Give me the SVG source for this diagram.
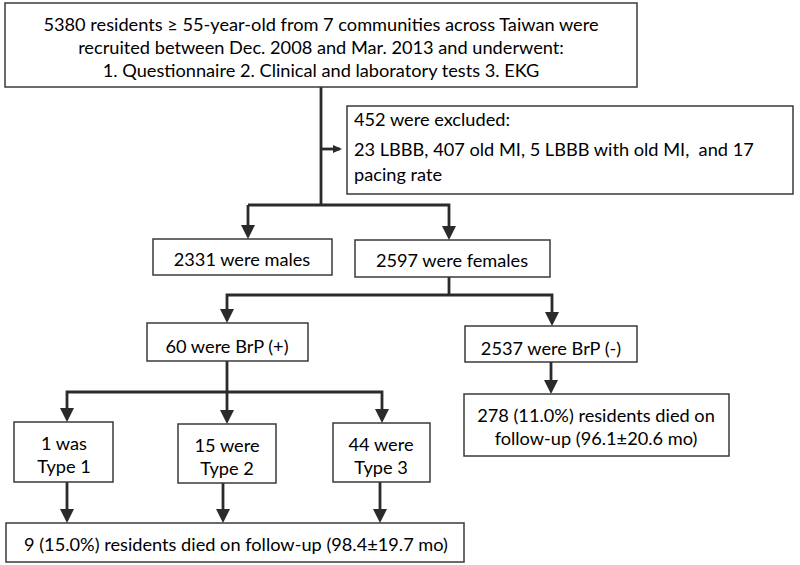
<svg xmlns="http://www.w3.org/2000/svg" width="800" height="565" viewBox="0 0 800 565">
<defs>
<marker id="ah" viewBox="0 0 14 14" refX="10" refY="7" markerWidth="14" markerHeight="14" markerUnits="userSpaceOnUse" orient="auto">
<path d="M0,0 L14,7 L0,14 z" fill="#2b2b2b"/>
</marker>
<marker id="ahs" viewBox="0 0 9 8" refX="7" refY="4" markerWidth="9" markerHeight="8" markerUnits="userSpaceOnUse" orient="auto">
<path d="M0,0 L9,4 L0,8 z" fill="#2b2b2b"/>
</marker>
</defs>
<style>
.box{fill:#fff;stroke:#3a3a3a;stroke-width:1.5}
.t{font-family:Lato,"Liberation Sans",sans-serif;font-size:18.2px;fill:#000;text-anchor:middle}
.tl{text-anchor:start}
.c{fill:none;stroke:#2b2b2b;stroke-width:2.8}
.a{marker-end:url(#ah)}
</style>
<rect width="800" height="565" fill="#fff"/>
<g id="connectors">
<path class="c" d="M321,87 V205"/>
<path class="c" d="M321,149 H340" stroke-width="2" style="marker-end:url(#ahs)"/>
<path class="c a" d="M248,205 H449 V236"/>
<path class="c a" d="M248,205 V235"/>
<path class="c" d="M449,277 V295"/>
<path class="c a" d="M449,295 H227 V319"/>
<path class="c a" d="M449,295 H552 V322"/>
<path class="c a" d="M551,362 V390"/>
<path class="c" d="M227,361 V392"/>
<path class="c a" d="M227,392 H67 V418"/>
<path class="c a" d="M227,392 V420"/>
<path class="c a" d="M227,392 H382 V419"/>
<path class="c a" d="M67,482 V519"/>
<path class="c a" d="M223,483 V519"/>
<path class="c a" d="M380,482 V519"/>
</g>
<g id="top">
<rect class="box" x="5" y="3" width="632" height="84"/>
<text class="t" x="321" y="31">5380 residents ≥ 55-year-old from 7 communities across Taiwan were</text>
<text class="t" x="321" y="54">recruited between Dec. 2008 and Mar. 2013 and underwent:</text>
<text class="t" x="321" y="77">1. Questionnaire 2. Clinical and laboratory tests 3. EKG</text>
</g>
<g id="excluded">
<rect class="box" x="347" y="106" width="446" height="88"/>
<text class="t tl" x="354" y="126">452 were excluded:</text>
<text class="t tl" x="354" y="156" xml:space="preserve">23 LBBB, 407 old MI, 5 LBBB with old MI,  and 17</text>
<text class="t tl" x="354" y="181">pacing rate</text>
</g>
<g id="males">
<rect class="box" x="153" y="239" width="179" height="36"/>
<text class="t" x="242" y="266">2331 were males</text>
</g>
<g id="females">
<rect class="box" x="355" y="240" width="195" height="37"/>
<text class="t" x="452" y="267">2597 were females</text>
</g>
<g id="brp_pos">
<rect class="box" x="147" y="323" width="161" height="38"/>
<text class="t" x="227" y="353">60 were BrP (+)</text>
</g>
<g id="brp_neg">
<rect class="box" x="465" y="326" width="172" height="36"/>
<text class="t" x="551" y="355">2537 were BrP (-)</text>
</g>
<g id="neg_outcome">
<rect class="box" x="464" y="394" width="265" height="62"/>
<text class="t" x="596" y="422">278 (11.0%) residents died on</text>
<text class="t" x="596" y="445">follow-up (96.1±20.6 mo)</text>
</g>
<g id="type1">
<rect class="box" x="14" y="422" width="99" height="60"/>
<text class="t" x="64" y="450">1 was</text>
<text class="t" x="64" y="473">Type 1</text>
</g>
<g id="type2">
<rect class="box" x="178" y="424" width="98" height="59"/>
<text class="t" x="227" y="452">15 were</text>
<text class="t" x="227" y="475">Type 2</text>
</g>
<g id="type3">
<rect class="box" x="333" y="423" width="97" height="59"/>
<text class="t" x="381" y="451">44 were</text>
<text class="t" x="381" y="474">Type 3</text>
</g>
<g id="pos_outcome">
<rect class="box" x="6" y="523" width="458" height="39"/>
<text class="t" x="236" y="551">9 (15.0%) residents died on follow-up (98.4±19.7 mo)</text>
</g>
</svg>
